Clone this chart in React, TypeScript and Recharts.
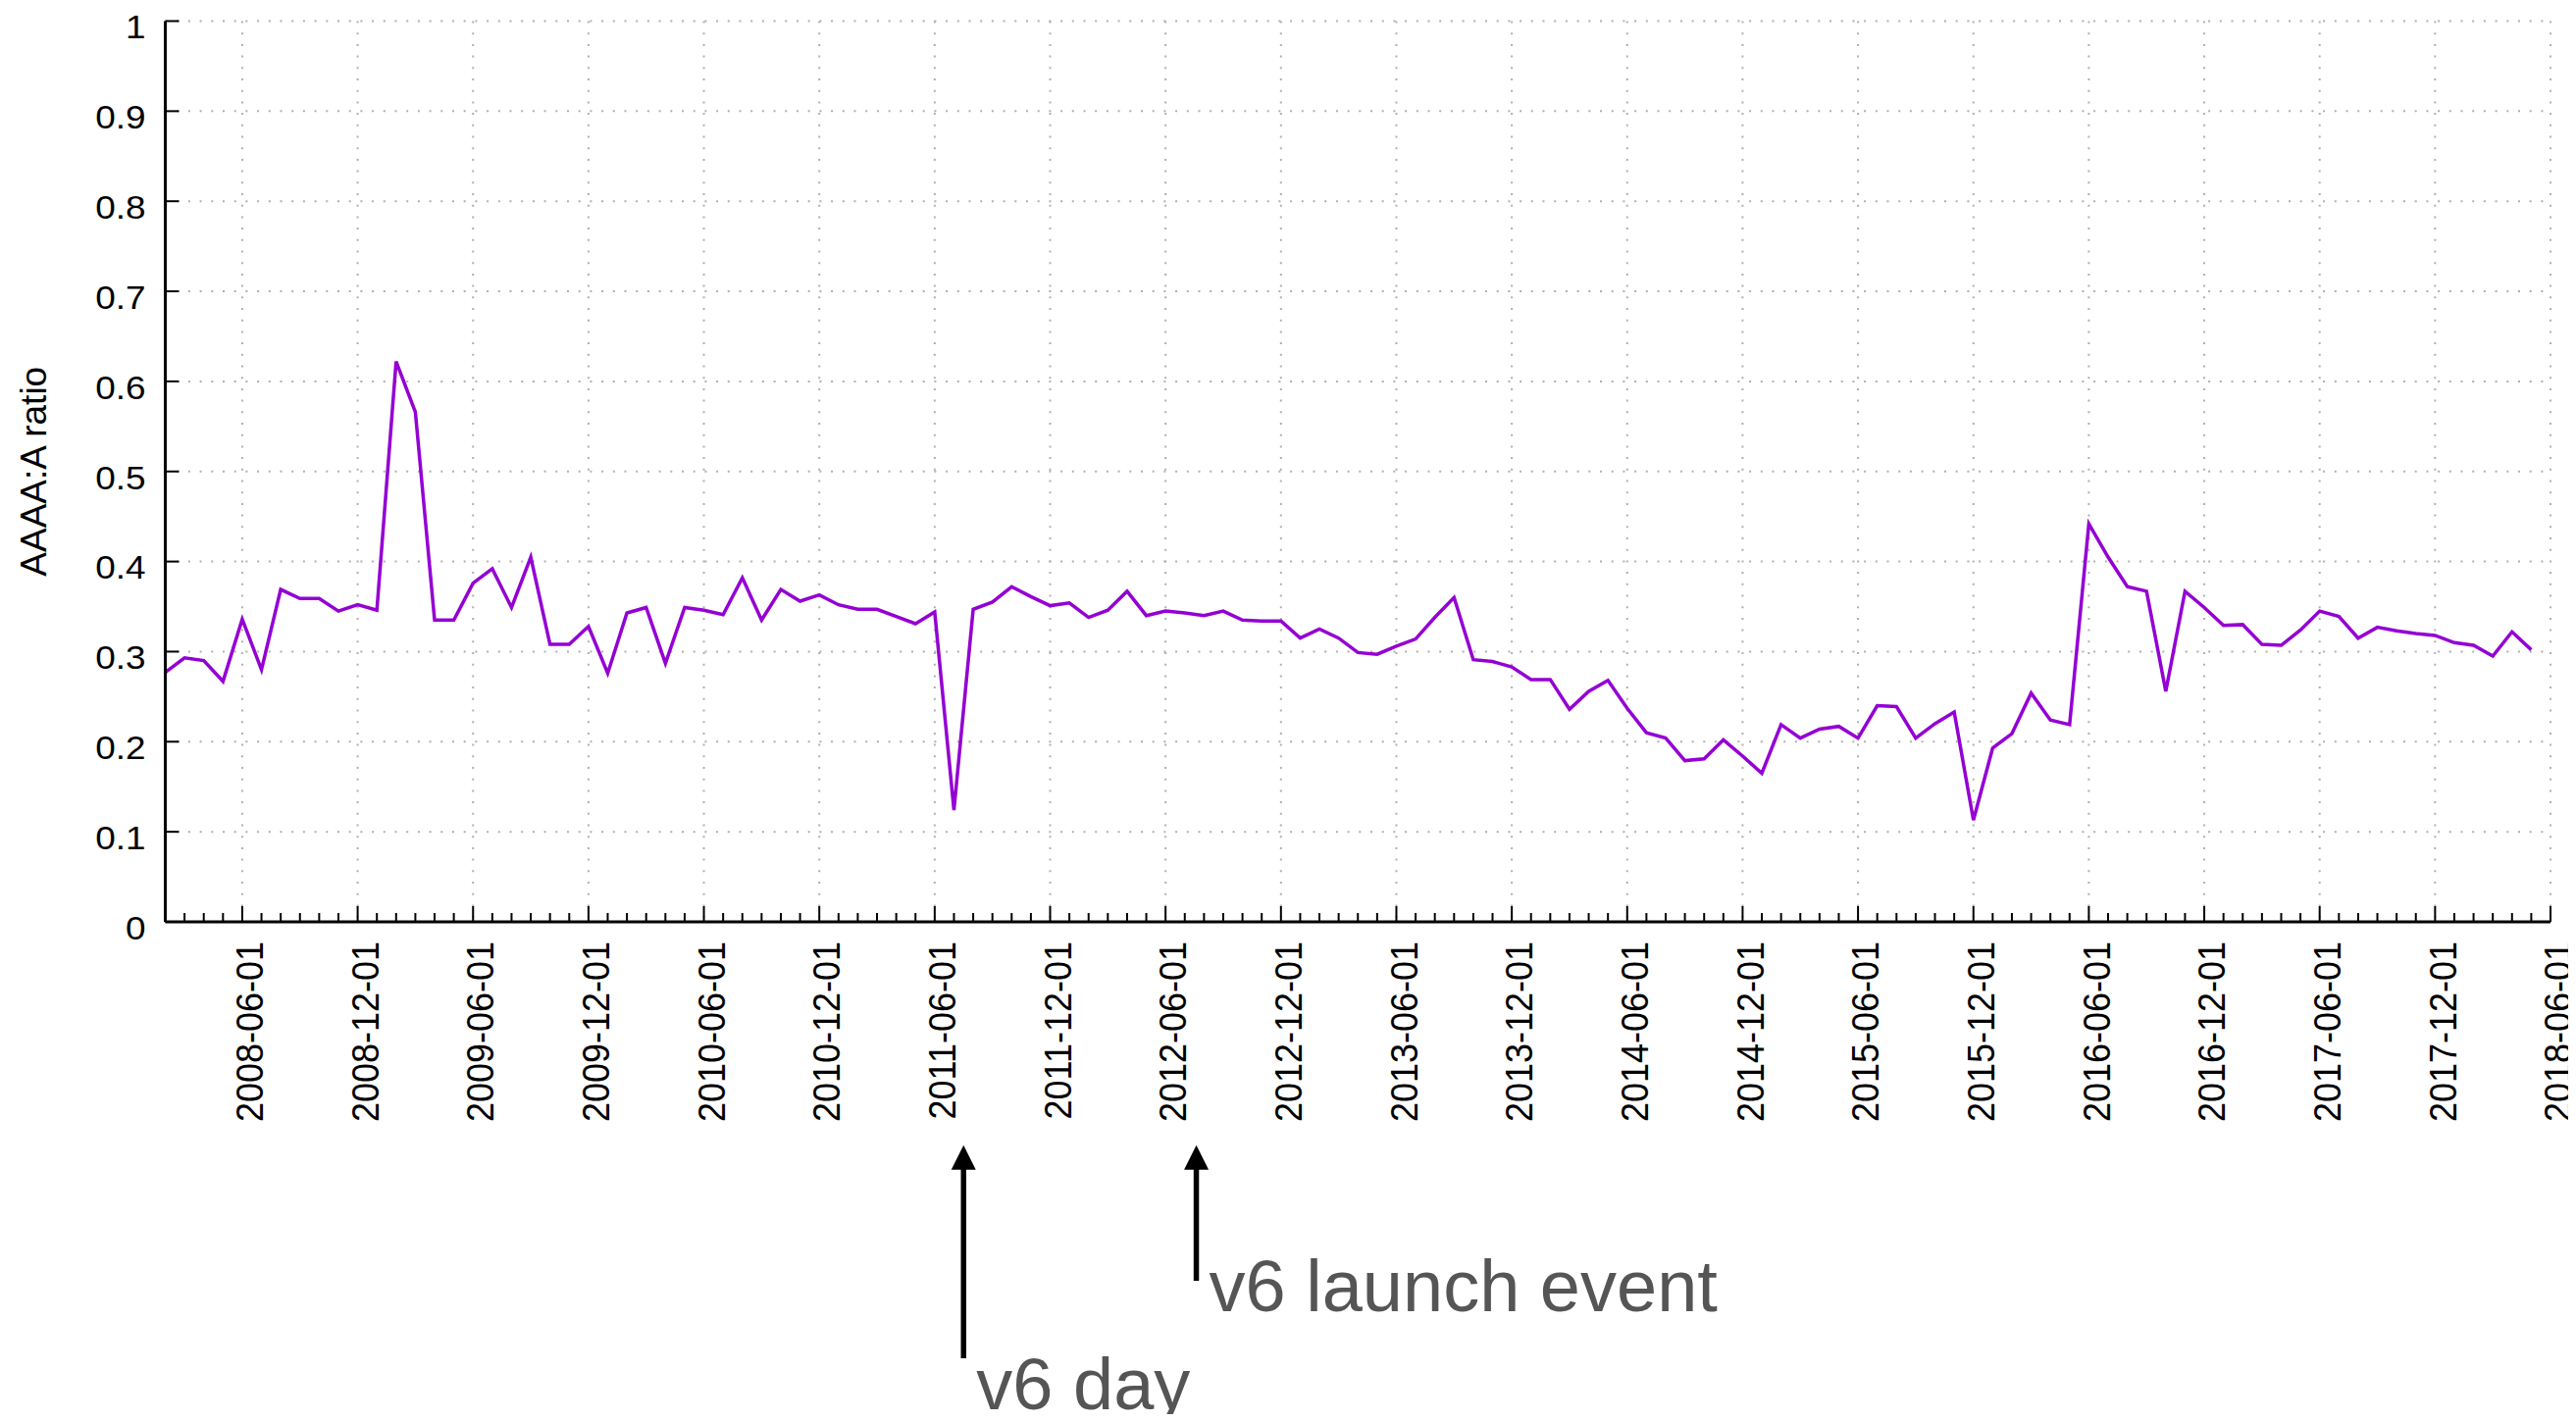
import React from "react";
import {
  LineChart,
  Line,
  XAxis,
  YAxis,
  CartesianGrid,
  ReferenceLine,
  ReferenceDot,
} from "recharts";

// ---------- data ----------
const seriesStart = "2008-02-01"; // first monthly sample
const aaaaRatio = [
  0.277, 0.293, 0.29, 0.267, 0.336, 0.28, 0.369, 0.359, 0.359, 0.345, 0.352, 0.346,
  0.622, 0.566, 0.335, 0.335, 0.376, 0.392, 0.349, 0.405, 0.308, 0.308, 0.328, 0.276,
  0.343, 0.349, 0.287, 0.349, 0.346, 0.341, 0.382, 0.335, 0.369, 0.356, 0.363, 0.352,
  0.347, 0.347, 0.339, 0.331, 0.344, 0.124, 0.347, 0.355, 0.372, 0.361, 0.351, 0.354,
  0.338, 0.346, 0.367, 0.34, 0.345, 0.343, 0.34, 0.345, 0.335, 0.334, 0.334, 0.315,
  0.325, 0.315, 0.299, 0.297, 0.306, 0.314, 0.338, 0.36, 0.291, 0.289, 0.283, 0.269,
  0.269, 0.236, 0.256, 0.268, 0.237, 0.21, 0.204, 0.179, 0.181, 0.202, 0.184, 0.165,
  0.219, 0.204, 0.214, 0.217, 0.204, 0.24, 0.239, 0.204, 0.22, 0.233, 0.113, 0.193,
  0.209, 0.254, 0.224, 0.219, 0.442, 0.405, 0.372, 0.367, 0.256, 0.367, 0.349, 0.329,
  0.33, 0.308, 0.307, 0.324, 0.345, 0.339, 0.315, 0.327, 0.323, 0.32, 0.318, 0.31,
  0.307, 0.295, 0.322, 0.302,
];

const xTickLabels = [
  "2008-06-01", "2008-12-01", "2009-06-01", "2009-12-01", "2010-06-01", "2010-12-01",
  "2011-06-01", "2011-12-01", "2012-06-01", "2012-12-01", "2013-06-01", "2013-12-01",
  "2014-06-01", "2014-12-01", "2015-06-01", "2015-12-01", "2016-06-01", "2016-12-01",
  "2017-06-01", "2017-12-01", "2018-06-01",
];

const yTicks = [0, 0.1, 0.2, 0.3, 0.4, 0.5, 0.6, 0.7, 0.8, 0.9, 1];
const yTickLabels = ["0", "0.1", "0.2", "0.3", "0.4", "0.5", "0.6", "0.7", "0.8", "0.9", "1"];
const yAxisTitle = "AAAA:A ratio";

// annotations (dates and values in data units)
const annotationLabels = ["v6 day", "v6 launch event"];
const annotationDates = ["2011-07-16", "2012-07-19"];
const annotationTop = [-0.248, -0.248];
const annotationBottom = [-0.4845, -0.3985];
const annotationTextY = [-0.541, -0.432];

// ---------- helpers ----------
const [baseYear, baseMonth] = seriesStart.split("-").map(Number);
const monthIndex = (date: string) => {
  const [y, m, d] = date.split("-").map(Number);
  return (y - baseYear) * 12 + (m - baseMonth) + ((d || 1) - 1) / 30;
};

const rows = aaaaRatio.map((v, k) => ({ x: monthIndex(seriesStart) + k, ratio: v }));
const majorX = xTickLabels.map(monthIndex);
const xMax = majorX[majorX.length - 1];
const xMin = monthIndex(seriesStart);
const allMonthTicks: number[] = [];
for (let t = xMin; t <= xMax; t++) allMonthTicks.push(t);
const majorLabel = new Map<number, string>(majorX.map((v, k) => [v, xTickLabels[k]]));

const FONT = "'Liberation Sans', Arial, Helvetica, sans-serif";
const PURPLE = "#9400D3";

const XTick = (props: any) => {
  const { x, y, payload } = props;
  const label = majorLabel.get(payload.value);
  const major = label !== undefined;
  return (
    <g>
      <line x1={x} x2={x} y1={y} y2={y - (major ? 16 : 9)} stroke="#000" strokeWidth={2} />
      {major && (
        <g transform={`translate(${x + 7},${y + 20}) scale(1.1,1)`}>
          <text
            transform="rotate(-90)"
            textAnchor="end"
            dy="0.36em"
            fontSize={36}
            fill="#000"
            fontFamily={FONT}
          >
            {label}
          </text>
        </g>
      )}
    </g>
  );
};

const YTick = (props: any) => {
  const { x, y, payload } = props;
  const idx = yTicks.indexOf(payload.value);
  const axisX = x + 20;
  return (
    <g>
      <line x1={axisX} x2={axisX + 14} y1={y} y2={y} stroke="#000" strokeWidth={2} />
      <g transform={`translate(${x},${y + 6}) scale(1.12,1)`}>
        <text textAnchor="end" dy="0.36em" fontSize={33} fill="#000" fontFamily={FONT}>
          {idx >= 0 ? yTickLabels[idx] : String(payload.value)}
        </text>
      </g>
    </g>
  );
};

const YTitle = (props: any) => {
  const vb = props.viewBox || { x: 0, y: 0, width: 0, height: 0 };
  const cx = vb.x + 25.5;
  const cy = vb.y + vb.height / 2;
  return (
    <text
      transform={`translate(${cx},${cy}) rotate(-90)`}
      textAnchor="middle"
      dy="0.36em"
      fontSize={37}
      fill="#000"
      fontFamily={FONT}
    >
      {yAxisTitle}
    </text>
  );
};

const Arrow = (props: any) => {
  const { x1, y1, y2 } = props;
  const top = Math.min(y1, y2);
  const bottom = Math.max(y1, y2);
  const head = 25;
  return (
    <g>
      <line x1={x1} x2={x1} y1={top + head - 2} y2={bottom} stroke="#000" strokeWidth={5.5} />
      <polygon
        points={`${x1},${top} ${x1 - 12.5},${top + head} ${x1 + 12.5},${top + head}`}
        fill="#000"
      />
    </g>
  );
};

export default function App() {
  return (
    <div>
      <style>{`.recharts-surface { overflow: visible; }`}</style>
      <LineChart
        width={2610}
        height={1434}
        data={rows}
        margin={{ top: 13.5, right: 18, bottom: 0, left: 0 }}
      >
        <CartesianGrid
          horizontalValues={yTicks}
          verticalValues={majorX}
          stroke="#b0b0b0"
          strokeWidth={2}
          strokeDasharray="2 9.7"
        />
        <XAxis
          dataKey="x"
          type="number"
          domain={[xMin, xMax]}
          ticks={allMonthTicks}
          interval={0}
          height={502}
          tickSize={0}
          tickMargin={0}
          tickLine={false}
          axisLine={{ stroke: "#000", strokeWidth: 3 }}
          tick={XTick}
          allowDecimals
        />
        <YAxis
          type="number"
          domain={[0, 1]}
          ticks={yTicks}
          interval={0}
          width={160.5}
          tickSize={0}
          tickMargin={20}
          tickLine={false}
          axisLine={{ stroke: "#000", strokeWidth: 3 }}
          tick={YTick}
          label={YTitle}
        />
        <Line
          type="linear"
          dataKey="ratio"
          stroke={PURPLE}
          strokeWidth={3.5}
          strokeLinejoin="miter"
          dot={false}
          activeDot={false}
          isAnimationActive={false}
        />
        {annotationLabels.map((lab, k) => (
          <ReferenceLine
            key={`arrow-${k}`}
            segment={[
              { x: monthIndex(annotationDates[k]), y: annotationTop[k] },
              { x: monthIndex(annotationDates[k]), y: annotationBottom[k] },
            ]}
            ifOverflow="visible"
            shape={Arrow}
          />
        ))}
        {annotationLabels.map((lab, k) => (
          <ReferenceDot
            key={`label-${k}`}
            x={monthIndex(annotationDates[k])}
            y={annotationTextY[k]}
            ifOverflow="visible"
            shape={(p: any) => (
              <text x={p.cx + 13} y={p.cy} fontSize={74} fill="#555" fontFamily={FONT}>
                {lab}
              </text>
            )}
          />
        ))}
      </LineChart>
    </div>
  );
}
